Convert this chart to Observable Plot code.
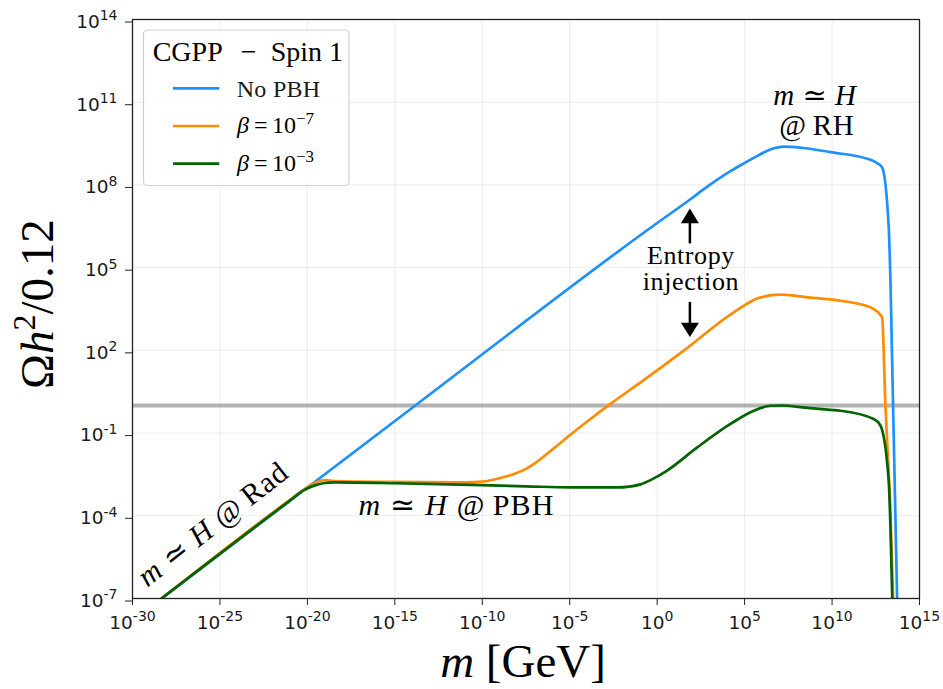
<!DOCTYPE html>
<html><head><meta charset="utf-8">
<script src="https://cdn.jsdelivr.net/npm/d3@7"></script>
<script src="https://cdn.jsdelivr.net/npm/@observablehq/plot@0.6"></script>
<style>body{margin:0;background:#fff}svg text{white-space:pre}</style>
</head><body><div id="chart"></div>
<script>
// ---- data (exponents: value = 10^e) ----
const xTickExps = [-30, -25, -20, -15, -10, -5, 0, 5, 10, 15];
const yTickExps = [-7, -4, -1, 2, 5, 8, 11, 14];
const seriesNames = ["No PBH", "β=10^−7", "β=10^−3"];
const seriesColors = ["#1e90ff", "#ff8c00", "#006400"];

const noPbhLogM     = [-28.34, -14, 0, 1.9, 2.57, 4.19, 4.95, 5.52, 6.67, 7.24, 8.38, 9.91, 12.2, 12.58, 12.86, 13.24, 13.34, 13.72];
const noPbhLogOmega = [-7.0, -0.08, 6.62, 7.48, 7.80, 8.50, 8.78, 8.98, 9.33, 9.39, 9.34, 9.19, 8.91, 8.79, 8.64, 6.46, 4.53, -6.97];

const beta7LogM     = [-28.34, -21, -20.2, -19.5, -19.0, -18.5, -15, -11, -10, -9.5, -9, -8.5, -8, -7.5, -7, -6, -5, -4, -2.67, -0.77, 1.52, 4.38, 5.9, 7.05, 8.5, 10.48, 12.2, 12.86, 13.05, 13.34, 13.49];
const beta7LogOmega = [-7.0, -3.42, -3.05, -2.78, -2.71, -2.74, -2.77, -2.79, -2.76, -2.71, -2.64, -2.55, -2.44, -2.30, -2.10, -1.60, -1.08, -0.58, 0.06, 0.92, 1.99, 3.38, 3.92, 4.02, 3.93, 3.80, 3.56, 3.20, 0.06, -3.94, -6.96];

const beta3LogM     = [-28.34, -21, -20.2, -19.44, -19.0, -18.5, -15, -11.25, -7.5, -4.94, -2.29, -1.6, -0.95, -0.3, 0.57, 2.29, 4.19, 5.52, 6.48, 7.15, 8.5, 9.91, 10.48, 12.38, 12.77, 13.24, 13.44];
const beta3LogOmega = [-7.0, -3.45, -3.07, -2.87, -2.81, -2.79, -2.82, -2.87, -2.93, -2.97, -2.97, -2.94, -2.86, -2.68, -2.36, -1.52, -0.67, -0.19, -0.01, 0.0, -0.08, -0.16, -0.19, -0.49, -0.73, -2.73, -6.96];

const observedOmega = 1; // Ωh²/0.12 = 1

// ---- build tables ----
const toRows = (lm, lo, s) => lm.map((v, i) => ({m: 10 ** v, omega: 10 ** lo[i], series: s}));
const seriesRows = [
  toRows(noPbhLogM, noPbhLogOmega, seriesNames[0]),
  toRows(beta7LogM, beta7LogOmega, seriesNames[1]),
  toRows(beta3LogM, beta3LogOmega, seriesNames[2])
];
const xTicks = xTickExps.map(e => 10 ** e);
const yTicks = yTickExps.map(e => 10 ** e);
const fmt = d => "10^" + Math.round(Math.log10(d));

const SERIF = "'Liberation Serif', 'DejaVu Serif', serif";
const SANS = "'DejaVu Sans', sans-serif";

const plot = Plot.plot({
  width: 943, height: 689,
  marginLeft: 132, marginRight: 24, marginTop: 19, marginBottom: 91,
  style: {fontFamily: SANS, fontSize: "18px", color: "#1a1a1a", background: "white"},
  x: {type: "log", domain: [1e-30, 1e15]},
  y: {type: "log", domain: [1e-7, 1e14]},
  marks: [
    Plot.gridX(xTicks, {stroke: "#000", strokeOpacity: 0.08, strokeWidth: 1}),
    Plot.gridY(yTicks, {stroke: "#000", strokeOpacity: 0.08, strokeWidth: 1}),
    Plot.ruleY([observedOmega], {stroke: "gray", strokeOpacity: 0.6, strokeWidth: 4}),
    ...seriesRows.map((rows, i) => Plot.line(rows, {x: "m", y: "omega", stroke: seriesColors[i], strokeWidth: 2.7, curve: "monotone-x", clip: true})),
    Plot.frame({stroke: "#222", strokeWidth: 1.3}),
    Plot.axisX(xTicks, {anchor: "bottom", tickSize: 7, tickPadding: 10, tickFormat: fmt, label: null, stroke: "#222"}),
    Plot.axisY(yTicks, {anchor: "left", tickSize: 7, tickPadding: 8, tickFormat: fmt, label: null, dy: 2.5, stroke: "#222"})
  ]
});
document.getElementById("chart").appendChild(plot);

const svg = d3.select(plot);
// superscript tick labels
svg.selectAll('g[aria-label="x-axis tick label"], g[aria-label="y-axis tick label"]')
  .attr("font-family", SANS).style("font-family", SANS);
svg.selectAll('g[aria-label="x-axis tick label"] text, g[aria-label="y-axis tick label"] text').each(function () {
  const t = d3.select(this);
  const [b, e] = t.text().split("^");
  t.text(null).style("font-family", SANS).style("font-size", "18.5px").attr("fill", "#1a1a1a");
  t.append("tspan").style("font-family", SANS).style("font-size", "18.5px").text(b);
  t.append("tspan").attr("dy", "-7.5").style("font-family", SANS).style("font-size", "14px").text(e);
});

const sx = plot.scale("x"), sy = plot.scale("y");
const X = lm => sx.apply(10 ** lm), Y = lo => sy.apply(10 ** lo);

const layer = svg.append("g").attr("text-anchor", "middle");
function rich(x, y, parts, size, rotate = 0, spacing = 0) {
  const t = layer.append("text")
    .attr("transform", `translate(${x},${y}) rotate(${rotate})`)
    .attr("text-anchor", "middle").style("font-family", SERIF)
    .style("font-size", size + "px").style("letter-spacing", spacing + "px").attr("fill", "#000");
  for (const p of parts) {
    const ts = t.append("tspan").text(p.t);
    if (p.i) ts.attr("font-style", "italic");
    if (p.fs) ts.style("font-size", p.fs + "px");
    if (p.dy) ts.attr("dy", p.dy);
  }
  return t;
}

// axis labels
rich(53, 304, [{t: "Ω"}, {t: "h", i: true}, {t: "2", fs: 32, dy: -18}, {t: "/0.12", dy: 18}], 47, -90);
rich(523, 677, [{t: "m", i: true}, {t: " [GeV]"}], 47);

// annotations
rich(X(9.05), Y(10.88), [{t: "m", i: true}, {t: " ≃ "}, {t: "H", i: true}], 29, 0, 0.5);
rich(X(9.15), Y(9.79), [{t: "@\u2009RH"}], 29, 0, 0.5);
rich(X(1.96), Y(5.12), [{t: "Entropy"}], 26, 0, 0.6);
rich(X(1.96), Y(4.17), [{t: "injection"}], 26, 0, 0.6);
rich(X(-11.44), Y(-4.0), [{t: "m", i: true}, {t: " ≃ "}, {t: "H", i: true}, {t: " @\u2009PBH"}], 30, 0, 1.2);
rich(X(-25.03), Y(-4.6), [{t: "m", i: true}, {t: " ≃ "}, {t: "H", i: true}, {t: " @\u2009Rad"}], 30, -38, 0.8);

// arrows
const ax = X(1.9);
layer.append("line").attr("x1", ax).attr("x2", ax).attr("y1", Y(5.86)).attr("y2", Y(6.62)).attr("stroke", "#000").attr("stroke-width", 2.5);
layer.append("path").attr("d", `M${ax},${Y(7.13)}L${ax - 9},${Y(6.59)}L${ax + 9},${Y(6.59)}Z`).attr("fill", "#000");
layer.append("line").attr("x1", ax).attr("x2", ax).attr("y1", Y(3.74)).attr("y2", Y(2.95)).attr("stroke", "#000").attr("stroke-width", 2.5);
layer.append("path").attr("d", `M${ax},${Y(2.47)}L${ax - 9},${Y(2.98)}L${ax + 9},${Y(2.98)}Z`).attr("fill", "#000");

// legend
const lg = svg.append("g").attr("text-anchor", "start");
lg.append("rect").attr("x", 143.5).attr("y", 30).attr("width", 205.5).attr("height", 155.5).attr("rx", 4)
  .attr("fill", "#fff").attr("fill-opacity", 0.85).attr("stroke", "#d0d0d0").attr("stroke-width", 1.2);
const title = lg.append("text").attr("text-anchor", "start").style("font-family", SERIF).style("font-size", "28px").attr("fill", "#000");
title.append("tspan").attr("x", 152.7).attr("y", 61).text("CGPP");
title.append("tspan").attr("x", 240.7).attr("y", 61).text("−");
title.append("tspan").attr("x", 270.7).attr("y", 61).text("Spin 1");
const rowY = [88.3, 126, 163.7];
rowY.forEach((y, i) => {
  lg.append("line").attr("x1", 173).attr("x2", 219.3).attr("y1", y).attr("y2", y)
    .attr("stroke", seriesColors[i]).attr("stroke-width", 2.7);
});
lg.append("text").attr("text-anchor", "start").attr("x", 236.7).attr("y", 96.7).style("font-family", SERIF)
  .style("font-size", "24px").style("letter-spacing", "0.3px").text(seriesNames[0]);
[1, 2].forEach(i => {
  const base = rowY[i] + 7.3;
  const [lhs, exp] = seriesNames[i].split("^");
  const t = lg.append("text").attr("text-anchor", "start").style("font-family", SERIF).style("font-size", "24px").attr("fill", "#000");
  t.append("tspan").attr("x", 237).attr("y", base).attr("font-style", "italic").text("β");
  t.append("tspan").attr("x", 254).attr("y", base).text("=");
  t.append("tspan").attr("x", 272).attr("y", base).text(lhs.split("=")[1]);
  t.append("tspan").attr("x", 296).attr("y", base - 9).style("font-size", "17px").text(exp);
});
</script>
</body></html>
